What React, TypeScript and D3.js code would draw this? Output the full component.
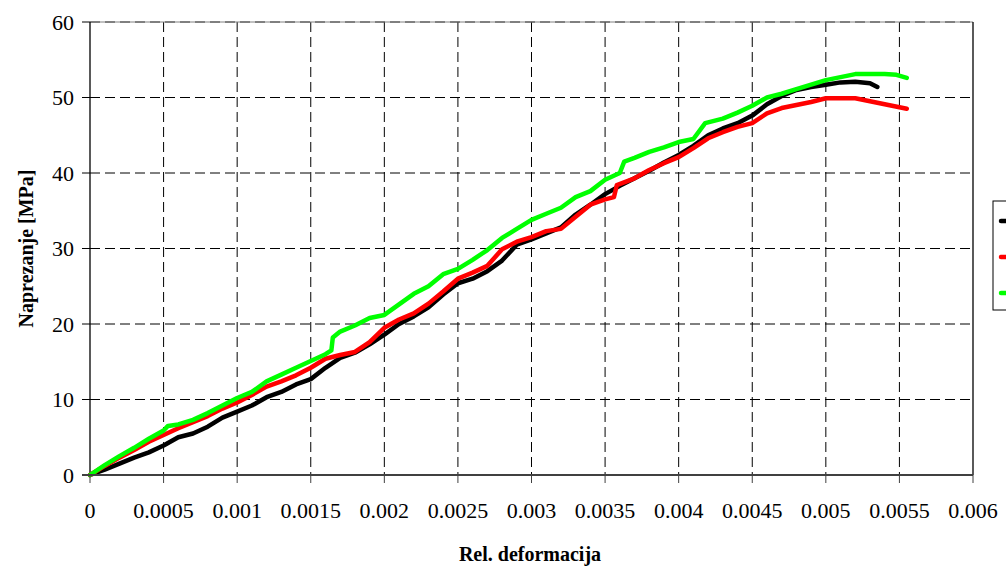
import React, { useEffect } from "react";
import * as d3 from "d3";

const xTicks = [0, 0.0005, 0.001, 0.0015, 0.002, 0.0025, 0.003, 0.0035, 0.004, 0.0045, 0.005, 0.0055, 0.006];
const xTickLabels = ["0", "0.0005", "0.001", "0.0015", "0.002", "0.0025", "0.003", "0.0035", "0.004", "0.0045", "0.005", "0.0055", "0.006"];
const yTicks = [0, 10, 20, 30, 40, 50, 60];

const seriesColors = ["#000000", "#ff0000", "#00ff00"];

const blackData: [number, number][] = [
  [0, 0], [0.0001, 0.7], [0.0002, 1.5], [0.0003, 2.3], [0.0004, 3.0], [0.0005, 3.9],
  [0.0006, 5.0], [0.0007, 5.5], [0.0008, 6.4], [0.0009, 7.6], [0.001, 8.4], [0.0011, 9.2],
  [0.0012, 10.3], [0.0013, 11.0], [0.0014, 12.0], [0.0015, 12.7], [0.0016, 14.2], [0.0017, 15.5],
  [0.0018, 16.2], [0.0019, 17.3], [0.002, 18.6], [0.0021, 20.0], [0.0022, 21.0], [0.0023, 22.2],
  [0.0024, 23.9], [0.0025, 25.4], [0.0026, 26.0], [0.0027, 27.0], [0.0028, 28.4], [0.0029, 30.5],
  [0.003, 31.2], [0.0031, 32.0], [0.0032, 32.8], [0.0033, 34.5], [0.0034, 35.8], [0.0035, 37.2],
  [0.0036, 38.3], [0.0037, 39.3], [0.0038, 40.3], [0.0039, 41.4], [0.004, 42.4], [0.0041, 43.6],
  [0.0042, 45.0], [0.0043, 45.9], [0.0044, 46.6], [0.0045, 47.6], [0.0046, 49.1], [0.0047, 50.2],
  [0.0048, 51.0], [0.0049, 51.4], [0.005, 51.7], [0.0051, 52.0], [0.0052, 52.1], [0.0053, 51.9],
  [0.00535, 51.4],
];

const redData: [number, number][] = [
  [0, 0], [0.0001, 1.2], [0.0002, 2.3], [0.0003, 3.3], [0.0004, 4.4], [0.0005, 5.3],
  [0.0006, 6.2], [0.0007, 7.0], [0.0008, 7.8], [0.0009, 8.8], [0.001, 9.6], [0.0011, 10.6],
  [0.0012, 11.7], [0.0013, 12.4], [0.0014, 13.2], [0.0015, 14.2], [0.0016, 15.4], [0.0017, 15.9],
  [0.0018, 16.3], [0.0019, 17.6], [0.002, 19.5], [0.0021, 20.6], [0.0022, 21.4], [0.0023, 22.7],
  [0.0024, 24.3], [0.0025, 26.0], [0.0026, 26.8], [0.0027, 27.7], [0.0028, 29.9], [0.0029, 30.9],
  [0.003, 31.5], [0.0031, 32.3], [0.0032, 32.6], [0.0033, 34.2], [0.0034, 35.8], [0.0035, 36.5],
  [0.00356, 36.8], [0.00358, 38.4], [0.0037, 39.3], [0.0038, 40.4], [0.0039, 41.3], [0.004, 42.1],
  [0.0041, 43.3], [0.0042, 44.6], [0.0043, 45.4], [0.0044, 46.1], [0.0045, 46.6], [0.0046, 47.9],
  [0.0047, 48.6], [0.0048, 49.0], [0.0049, 49.4], [0.005, 49.9], [0.0052, 49.9], [0.00555, 48.5],
];

const greenData: [number, number][] = [
  [0, 0], [0.0001, 1.3], [0.0002, 2.5], [0.0003, 3.6], [0.0004, 4.8], [0.0005, 5.9],
  [0.00053, 6.5], [0.0006, 6.7], [0.0007, 7.3], [0.0008, 8.2], [0.0009, 9.2], [0.001, 10.2],
  [0.0011, 11.0], [0.0012, 12.4], [0.0013, 13.3], [0.0014, 14.2], [0.0015, 15.1], [0.0016, 16.0],
  [0.00164, 16.5], [0.00165, 18.2], [0.0017, 19.0], [0.0018, 19.8], [0.0019, 20.8], [0.002, 21.2],
  [0.0021, 22.6], [0.0022, 24.0], [0.0023, 25.0], [0.0024, 26.6], [0.0025, 27.3], [0.0026, 28.5],
  [0.0027, 29.8], [0.0028, 31.4], [0.0029, 32.6], [0.003, 33.8], [0.0031, 34.6], [0.0032, 35.4],
  [0.0033, 36.8], [0.0034, 37.6], [0.0035, 39.1], [0.0036, 40.0], [0.00363, 41.5], [0.0037, 42.0],
  [0.0038, 42.8], [0.0039, 43.4], [0.004, 44.1], [0.0041, 44.5], [0.00418, 46.6], [0.0043, 47.2],
  [0.0044, 48.0], [0.0045, 48.9], [0.0046, 50.0], [0.0047, 50.5], [0.0048, 51.1], [0.0049, 51.7],
  [0.005, 52.3], [0.0051, 52.7], [0.0052, 53.1], [0.0054, 53.1], [0.00548, 53.0], [0.00555, 52.6],
];

const allSeries = [blackData, redData, greenData];

const W = 1006;
const H = 570;
const left = 90;
const right = 973;
const top = 22;
const bottom = 475;

export default function App() {
  useEffect(() => {
    document.body.style.margin = "0";
  }, []);

  const x = d3.scaleLinear().domain([0, 0.006]).range([left, right]);
  const y = d3.scaleLinear().domain([0, 60]).range([bottom, top]);
  const line = d3
    .line<[number, number]>()
    .x((d) => x(d[0]))
    .y((d) => y(d[1]));

  const font = "Liberation Serif, Tinos, Times New Roman, DejaVu Serif, serif";

  return (
    <svg width={W} height={H} style={{ display: "block", position: "absolute", left: 0, top: 0, background: "#fff" }}>
      <rect x={0} y={0} width={W} height={H} fill="#fff" />
      {/* grid */}
      {yTicks.slice(1).map((t) => (
        <line key={"gy" + t} x1={left} x2={right} y1={y(t)} y2={y(t)} stroke="#000" strokeWidth={1} strokeDasharray="10,5" />
      ))}
      {xTicks.slice(1, -1).map((t) => (
        <line key={"gx" + t} x1={x(t)} x2={x(t)} y1={top} y2={bottom} stroke="#000" strokeWidth={1} strokeDasharray="10,5" />
      ))}
      {/* plot border */}
      <line x1={left} x2={right} y1={top} y2={top} stroke="#808080" strokeWidth={1} />
      <line x1={right} x2={right} y1={top} y2={bottom} stroke="#000" strokeWidth={1.3} />
      {/* axes */}
      <line x1={left} x2={left} y1={top} y2={bottom} stroke="#000" strokeWidth={1.3} />
      {yTicks.map((t) => (
        <g key={"yt" + t}>
          <line x1={left - 8} x2={left} y1={y(t)} y2={y(t)} stroke="#000" strokeWidth={1} />
          <text x={left - 16} y={y(t) + 7.5} textAnchor="end" style={{ fontFamily: font }} fontSize={22} fill="#000">
            {t}
          </text>
        </g>
      ))}
      {/* series */}
      {allSeries.map((s, i) => (
        <path key={"s" + i} d={line(s) || ""} fill="none" stroke={seriesColors[i]} strokeWidth={4.5} strokeLinejoin="round" strokeLinecap="round" />
      ))}
      <line x1={left - 8} x2={right} y1={bottom} y2={bottom} stroke="#404040" strokeWidth={2} />
      {xTicks.map((t, i) => (
        <g key={"xt" + t}>
          <line x1={x(t)} x2={x(t)} y1={bottom} y2={bottom + 8} stroke="#404040" strokeWidth={1} />
          <text x={x(t)} y={518} textAnchor="middle" style={{ fontFamily: font }} fontSize={22} fill="#000">
            {xTickLabels[i]}
          </text>
        </g>
      ))}
      {/* axis titles */}
      <text x={530} y={561} textAnchor="middle" style={{ fontFamily: font }} fontSize={20} fontWeight="bold" fill="#000">
        Rel. deformacija
      </text>
      <text
        transform={`translate(33, ${(top + bottom) / 2}) rotate(-90)`}
        textAnchor="middle"
        style={{ fontFamily: font }}
        fontSize={20}
        fontWeight="bold"
        fill="#000"
      >
        Naprezanje [MPa]
      </text>
      {/* legend (labels lie outside the visible area) */}
      <rect x={993} y={201} width={90} height={109} fill="#fff" stroke="#000" strokeWidth={1} />
      {seriesColors.map((c, i) => (
        <line key={"lg" + i} x1={1001} x2={1030} y1={221 + i * 36} y2={221 + i * 36} stroke={c} strokeWidth={4.5} strokeLinecap="round" />
      ))}
    </svg>
  );
}
